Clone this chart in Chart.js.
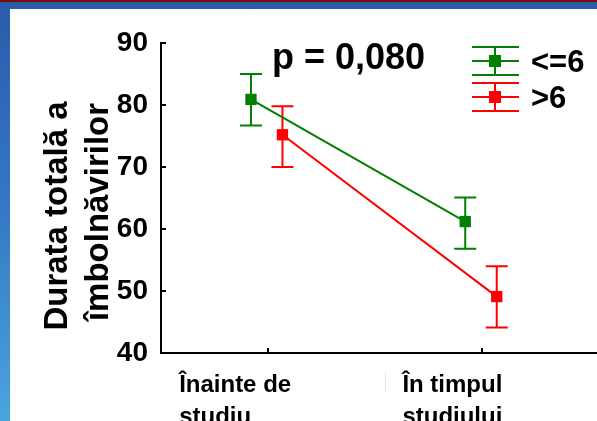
<!DOCTYPE html>
<html>
<head>
<meta charset="utf-8">
<script src="https://cdn.jsdelivr.net/npm/chart.js@4/dist/chart.umd.min.js"></script>
<style>
  html, body { margin: 0; padding: 0; }
  body {
    width: 597px; height: 421px; overflow: hidden; position: relative;
    background: linear-gradient(to bottom, #2a5bab 0%, #3479c4 50%, #4aa4de 100%);
  }
  #topline { position: absolute; left: 0; top: 0; width: 597px; height: 2px; background: #7a0c0c; }
  #panel { position: absolute; left: 10px; top: 9px; width: 587px; height: 412px; background: #fff; }
  #mark { position: absolute; left: 385px; top: 372px; width: 1px; height: 20px; background: #e4e4e4; }
  #wrap { position: absolute; left: 0; top: 0; width: 597px; height: 421px; }
</style>
</head>
<body>
<div id="topline"></div>
<div id="panel"></div>
<div id="mark"></div>
<div id="wrap"><canvas id="myChart" width="597" height="421"></canvas></div>
<script>
// categories (x = 1, 2) and the two groups
var categories = [['Înainte de', 'studiu'], ['În timpul', 'studiului']];
var catPos = [1, 2];
var groups = ['<=6', '>6'];
var yTicks = [40, 50, 60, 70, 80, 90];

// group <=6
var meanLe6 = [80.9, 61.2];
var upperLe6 = [85.0, 65.1];
var lowerLe6 = [76.7, 56.8];
// group >6
var meanGt6 = [75.2, 49.1];
var upperGt6 = [79.8, 54.0];
var lowerGt6 = [70.0, 44.1];

var pText = 'p = 0,080';

var colors = ['#008000', '#ff0000'];
var shifts = [-0.08, 0.067];
var font = '"Liberation Sans", Arial, sans-serif';

function pts(mean, k) {
  return catPos.map(function (c, j) { return { x: c + shifts[k], y: mean[j] }; });
}

var bars = [
  { upper: upperLe6, lower: lowerLe6 },
  { upper: upperGt6, lower: lowerGt6 }
];

var extras = {
  id: 'extras',
  beforeDatasetsDraw: function (chart) {
    var ctx = chart.ctx, xs = chart.scales.x, ys = chart.scales.y;
    ctx.save();
    ctx.lineWidth = 2;
    bars.forEach(function (b, k) {
      ctx.strokeStyle = colors[k];
      catPos.forEach(function (c, j) {
        var x = xs.getPixelForValue(c + shifts[k]);
        var t = ys.getPixelForValue(b.upper[j]);
        var l = ys.getPixelForValue(b.lower[j]);
        ctx.beginPath();
        ctx.moveTo(x, t); ctx.lineTo(x, l);
        ctx.moveTo(x - 11, t); ctx.lineTo(x + 11, t);
        ctx.moveTo(x - 11, l); ctx.lineTo(x + 11, l);
        ctx.stroke();
      });
    });
    ctx.restore();
  },
  afterDraw: function (chart) {
    var ctx = chart.ctx, xs = chart.scales.x, ys = chart.scales.y, a = chart.chartArea;
    ctx.save();
    // inward ticks
    ctx.strokeStyle = '#000';
    ctx.lineWidth = 2;
    ctx.beginPath();
    yTicks.forEach(function (v) {
      var y = Math.round(ys.getPixelForValue(v));
      ctx.moveTo(a.left, y); ctx.lineTo(a.left + 5, y);
    });
    catPos.forEach(function (c) {
      var x = Math.round(xs.getPixelForValue(c));
      ctx.moveTo(x, a.bottom); ctx.lineTo(x, a.bottom - 5);
    });
    ctx.stroke();

    ctx.fillStyle = '#000';
    // category labels
    var offs = [-89, -80];
    ctx.font = 'bold 24px ' + font;
    ctx.textAlign = 'left';
    ctx.textBaseline = 'alphabetic';
    categories.forEach(function (lines, i) {
      var x = xs.getPixelForValue(catPos[i]) + offs[i];
      lines.forEach(function (s, n) { ctx.fillText(s, x, 392 + n * 32); });
    });

    // p value
    ctx.font = 'bold 36px ' + font;
    ctx.fillText(pText, 272, 69);

    // legend
    groups.forEach(function (g, k) {
      var cy = k === 0 ? 61 : 97;
      ctx.strokeStyle = colors[k];
      ctx.lineWidth = 2;
      ctx.beginPath();
      [-14, 0, 14].forEach(function (d) { ctx.moveTo(472, cy + d); ctx.lineTo(519, cy + d); });
      ctx.moveTo(495, cy - 14); ctx.lineTo(495, cy + 14);
      ctx.stroke();
      ctx.fillStyle = colors[k];
      ctx.fillRect(489, cy - 6, 12, 12);
      ctx.fillStyle = '#000';
      ctx.font = 'bold 31px ' + font;
      ctx.textBaseline = 'middle';
      ctx.fillText(g, 531, cy + 2);
    });

    // y axis title
    ctx.textAlign = 'center';
    ctx.textBaseline = 'alphabetic';
    ctx.font = 'bold 33px ' + font;
    [['Durata totală a', 67, 216], ['îmbolnăvirilor', 108, 212]].forEach(function (t) {
      ctx.save();
      ctx.translate(t[1], t[2]);
      ctx.rotate(-Math.PI / 2);
      ctx.fillText(t[0], 0, 0);
      ctx.restore();
    });
    ctx.restore();
  }
};

var ctx = document.getElementById('myChart');
var myChart = new Chart(ctx, {
  type: 'line',
  data: {
    datasets: [
      {
        label: groups[0], data: pts(meanLe6, 0),
        borderColor: colors[0], backgroundColor: colors[0], borderWidth: 2,
        pointStyle: 'rect', pointRadius: 8, pointBorderWidth: 0
      },
      {
        label: groups[1], data: pts(meanGt6, 1),
        borderColor: colors[1], backgroundColor: colors[1], borderWidth: 2,
        pointStyle: 'rect', pointRadius: 8, pointBorderWidth: 0
      }
    ]
  },
  options: {
    responsive: false,
    animation: false,
    layout: { autoPadding: false, padding: { left: 0, top: 43, right: 0, bottom: 68 } },
    plugins: { legend: { display: false }, tooltip: { enabled: false } },
    scales: {
      x: {
        type: 'linear', min: 0.5, max: 2.535,
        ticks: { display: false },
        grid: { display: false, drawTicks: false },
        border: { display: true, color: '#000', width: 2 },
        afterFit: function (s) { s.height = 0; }
      },
      y: {
        min: 40, max: 90,
        afterBuildTicks: function (s) { s.ticks = yTicks.map(function (v) { return { value: v }; }); },
        ticks: { color: '#000', padding: 13, font: { family: font, size: 28, weight: 'bold' } },
        grid: { display: false, drawTicks: false },
        border: { display: true, color: '#000', width: 2 },
        afterFit: function (s) { s.width = 161; }
      }
    }
  },
  plugins: [extras]
});
</script>
</body>
</html>
